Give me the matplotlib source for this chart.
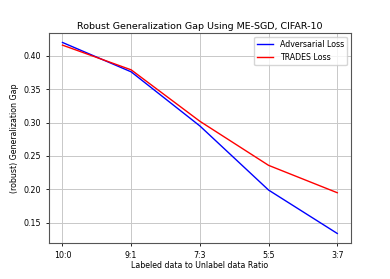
import matplotlib
matplotlib.use('Agg')
import matplotlib.pyplot as plt

ratios = ['10:0', '9:1', '7:3', '5:5', '3:7']
adv_loss = [0.420, 0.376, 0.295, 0.199, 0.134]
trades_loss = [0.416, 0.379, 0.302, 0.236, 0.195]

plt.rcParams['font.size'] = 5.7
plt.rcParams['xtick.major.size'] = 2.1
plt.rcParams['ytick.major.size'] = 2.1
plt.rcParams['xtick.major.width'] = 0.6
plt.rcParams['ytick.major.width'] = 0.6

fig, ax = plt.subplots(figsize=(3.9, 2.79), dpi=100)
fig.subplots_adjust(left=0.125, right=0.9, top=0.882, bottom=0.129)

x = range(len(ratios))
ax.plot(x, adv_loss, color='blue', label='Adversarial Loss', linewidth=1.0)
ax.plot(x, trades_loss, color='red', label='TRADES Loss', linewidth=1.0)
ax.set_xticks(list(x))
ax.set_xticklabels(ratios)
ax.set_yticks([0.15, 0.20, 0.25, 0.30, 0.35, 0.40])
ax.grid(True, color='#c8c8c8', linewidth=0.7)
for s in ax.spines.values():
    s.set_color('#555555')
    s.set_linewidth(0.8)
ax.set_title('Robust Generalization Gap Using ME-SGD, CIFAR-10', pad=3)
ax.set_xlabel('Labeled data to Unlabel data Ratio', labelpad=1)
ax.set_ylabel('(robust) Generalization Gap', labelpad=3)
ax.legend(loc='upper right')

plt.savefig('out.png')
